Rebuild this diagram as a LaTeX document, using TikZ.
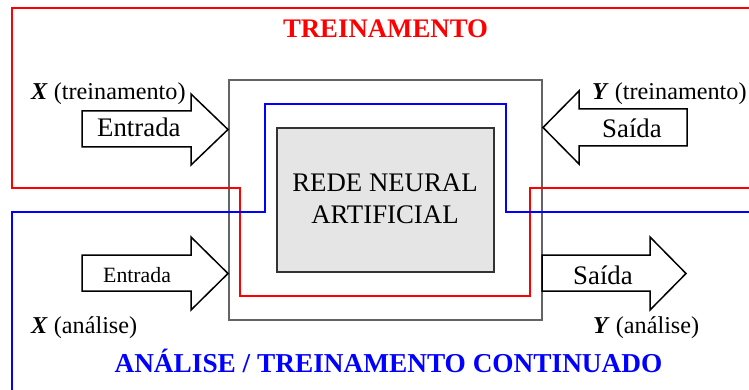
\documentclass[tikz,border=0pt]{standalone}
\usepackage{fontspec}
\setmainfont{Liberation Serif}
\definecolor{redline}{RGB}{255,0,0}
\definecolor{blueline}{RGB}{0,0,255}
\definecolor{boxgray}{RGB}{100,100,100}
\definecolor{innerfill}{RGB}{229,229,229}
\tikzset{
  bigtxt/.style={inner sep=0pt, font=\fontsize{26.8}{31}\selectfont},
  midtxt/.style={inner sep=0pt, font=\fontsize{24.2}{29}\selectfont},
  smalltxt/.style={inner sep=0pt, font=\fontsize{21.8}{26}\selectfont},
  bigarrow/.style={draw=black, line width=1.5pt, fill=white, line join=miter},
  redpath/.style={draw=redline, line width=2pt},
  bluepath/.style={draw=blueline, line width=2pt},
}
\begin{document}
\begin{tikzpicture}[x=1pt,y=-1pt]
\useasboundingbox (0,0) rectangle (749,390);
% outer gray box
\node[draw=boxgray, line width=1.2pt, minimum width=313pt, minimum height=240pt, inner sep=0pt] (outer) at (385.5,200) {};
% inner box
\node[draw=black!80, fill=innerfill, line width=1.2pt, minimum width=217pt, minimum height=144pt, inner sep=0pt] (net) at (385.5,200) {};
\node[bigtxt, anchor=base] (l1) at (385,192) {REDE NEURAL};
\node[bigtxt, anchor=base] (l2) at (385,223) {ARTIFICIAL};
% red training loop
\draw[redpath] (749,8) -- (12,8) -- (12,188) -- (240,188) -- (240,296) -- (530,296) -- (530,188) -- (749,188);
% blue analysis loop
\draw[bluepath] (12,390) -- (12,212) -- (265,212) -- (265,104) -- (506,104) -- (506,212) -- (749,212);
% arrows
\draw[bigarrow] (82,111) -- (191,111) -- (191,94) -- (228,129.5) -- (191,165) -- (191,147) -- (82,147) -- cycle;
\draw[bigarrow] (687,109) -- (579,109) -- (579,91) -- (543,127.5) -- (579,164) -- (579,146) -- (687,146) -- cycle;
\draw[bigarrow] (82,255) -- (191,255) -- (191,237) -- (228,273.5) -- (191,310) -- (191,291) -- (82,291) -- cycle;
\draw[bigarrow] (542,255) -- (650,255) -- (650,237) -- (686,273.5) -- (650,310) -- (650,291) -- (542,291) -- cycle;
% arrow texts
\node[bigtxt, anchor=base west] (e1) at (97,137) {Entrada};
\node[bigtxt, anchor=base west] (s1) at (602,138) {Saída};
\node[smalltxt, anchor=base west] (e2) at (103,282) {Entrada};
\node[bigtxt, anchor=base west] (s2) at (573,284) {Saída};
% labels
\node[midtxt, anchor=base west] (xt) at (31,100) {\textbf{\textit{X}} (treinamento)};
\node[midtxt, anchor=base west] (yt) at (592,100) {\textbf{\textit{Y}} (treinamento)};
\node[midtxt, anchor=base west] (xa) at (31,333) {\textbf{\textit{X}} (análise)};
\node[midtxt, anchor=base west] (ya) at (593,333) {\textbf{\textit{Y}} (análise)};
% titles
\node[bigtxt, anchor=base, text=redline, font=\fontsize{26.8}{31}\selectfont\bfseries] (t1) at (385.5,38) {TREINAMENTO};
\node[bigtxt, anchor=base, text=blueline, font=\fontsize{27.3}{31}\selectfont\bfseries] (t2) at (388.5,372) {ANÁLISE / TREINAMENTO CONTINUADO};
\end{tikzpicture}
\end{document}
